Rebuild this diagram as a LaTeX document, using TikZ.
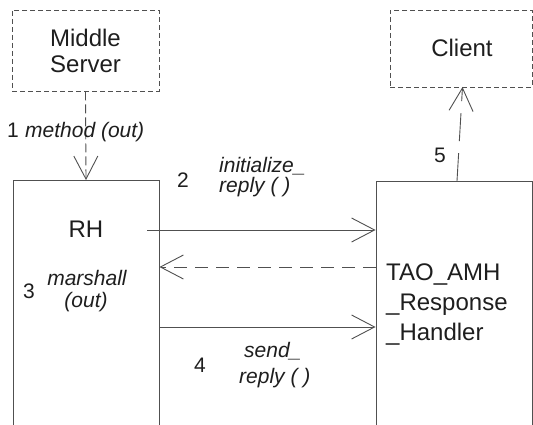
\documentclass[tikz,border=0pt]{standalone}
\usepackage{fontspec}
\setmainfont{Liberation Sans}
\usetikzlibrary{arrows.meta}
\definecolor{linecol}{HTML}{505050}
\definecolor{txtcol}{HTML}{1E1E1E}
\tikzset{
  box/.style={draw=linecol, line width=0.9pt, inner sep=0pt, rectangle},
  dbox/.style={box, dash pattern=on 5pt off 3pt},
  conn/.style={draw=linecol, line width=0.9pt, -{Straight Barb[length=23pt,width=24pt,line width=0.9pt]}},
  maintxt/.style={text=txtcol, inner sep=0pt, font=\fontsize{24}{28}\selectfont},
  lbltxt/.style={text=txtcol, inner sep=0pt, font=\fontsize{21}{25}\selectfont\itshape},
  numtxt/.style={text=txtcol, inner sep=0pt, font=\fontsize{21}{25}\selectfont},
}
\begin{document}
\begin{tikzpicture}[x=1pt,y=-1pt]
\useasboundingbox (0,0) rectangle (533,425);
\clip (0,0) rectangle (533,425);
% boxes
\node[dbox, minimum width=147pt, minimum height=81pt] (ms) at (85.5,50.5) {};
\node[dbox, minimum width=142pt, minimum height=77pt] (client) at (461,48.5) {};
\node[box, minimum width=146pt, minimum height=260pt] (rh) at (86,310.5) {};
\node[box, minimum width=156pt, minimum height=260pt] (tao) at (454,311) {};
% box texts
\node[maintxt, anchor=base] (t1) at (85.5,47) {Middle};
\node[maintxt, anchor=base] (t2) at (85.5,73) {Server};
\node[maintxt, anchor=base] (t3) at (462,57) {Client};
\node[maintxt, anchor=base] (t4) at (86,237) {RH};
\node[maintxt, anchor=base west] (t5) at (386,280) {TAO\_AMH};
\node[maintxt, anchor=base west] (t6) at (386,310) {\_Response};
\node[maintxt, anchor=base west] (t7) at (386,340) {\_Handler};
% connector coordinates
\coordinate (a2s) at (147,230);
\coordinate (a3y) at (0,267);
\coordinate (a4y) at (0,327);
\coordinate (a5s) at (457,181);
\coordinate (a5e) at (462.5,87);
% connectors
\draw[conn, dash pattern=on 9pt off 4pt] (ms.south) -- (rh.north);
\draw[conn] (a2s) -- (a2s -| tao.west);
\draw[conn, dash pattern=on 13pt off 8pt] (a3y -| tao.west) -- (a3y -| rh.east);
\draw[conn] (a4y -| rh.east) -- (a4y -| tao.west);
\draw[conn, dash pattern=on 28pt off 12pt] (a5s) -- (a5e);
% labels
\node[numtxt, anchor=base west] (n1) at (7,138) {1};
\node[lbltxt, anchor=base west] (l1) at (25,138) {method (out)};
\node[numtxt, anchor=base west] (n2) at (177,187) {2};
\node[lbltxt, anchor=base west] (l2a) at (219,172) {initialize\_};
\node[lbltxt, anchor=base west] (l2b) at (219,193) {reply ( )};
\node[numtxt, anchor=base west] (n3) at (23,298) {3};
\node[lbltxt, anchor=base] (l3a) at (87,285) {marshall};
\node[lbltxt, anchor=base] (l3b) at (86,307) {(out)};
\node[numtxt, anchor=base west] (n4) at (194,372) {4};
\node[lbltxt, anchor=base west] (l4a) at (244,357) {send\_};
\node[lbltxt, anchor=base west] (l4b) at (239,383) {reply ( )};
\node[numtxt, anchor=base west] (n5) at (434,163) {5};
\end{tikzpicture}
\end{document}
